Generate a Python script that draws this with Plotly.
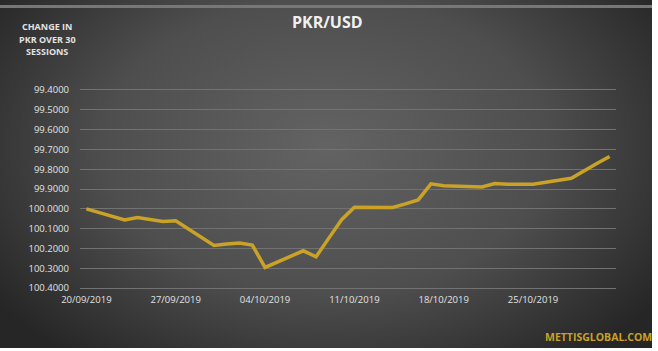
import base64
import plotly.graph_objects as go

dates = ['2019-09-20', '2019-09-23', '2019-09-24', '2019-09-25', '2019-09-26', '2019-09-27',
         '2019-09-30', '2019-10-01', '2019-10-02', '2019-10-03', '2019-10-04',
         '2019-10-07', '2019-10-08', '2019-10-09', '2019-10-10', '2019-10-11',
         '2019-10-14', '2019-10-15', '2019-10-16', '2019-10-17', '2019-10-18',
         '2019-10-21', '2019-10-22', '2019-10-23', '2019-10-24', '2019-10-25',
         '2019-10-28', '2019-10-29', '2019-10-30', '2019-10-31']
rates = [100.000, 100.056, 100.044, 100.052, 100.064, 100.060,
         100.185, 100.178, 100.173, 100.183, 100.296,
         100.212, 100.242, 100.148, 100.055, 99.992,
         99.993, 99.975, 99.955, 99.874, 99.884,
         99.890, 99.872, 99.876, 99.876, 99.876,
         99.846, 99.807, 99.771, 99.736]
y_ticks = [99.4, 99.5, 99.6, 99.7, 99.8, 99.9, 100.0, 100.1, 100.2, 100.3, 100.4]
y_title_lines = ['CHANGE IN', 'PKR OVER 30', 'SESSIONS']

W, H = 658, 351
ML, MR, MT, MB = 80, 42, 87, 60
PW, PH = W - ML - MR, H - MT - MB
FW, FH = 652, 348

svg = f"""<svg xmlns='http://www.w3.org/2000/svg' width='{FW}' height='{FH}' viewBox='0 0 {FW} {FH}' preserveAspectRatio='none'>
<defs><radialGradient id='g' cx='50%' cy='42%' r='62%' gradientTransform='translate(0.5 0.42) scale(1 1.25) translate(-0.5 -0.42)'>
<stop offset='0' stop-color='#636363'/><stop offset='0.55' stop-color='#4e4e4e'/><stop offset='1' stop-color='#262626'/></radialGradient></defs>
<rect width='{FW}' height='{FH}' fill='url(#g)'/>
<rect x='0' y='5' width='{FW}' height='3' fill='#777777'/>
</svg>"""
src = "data:image/svg+xml;base64," + base64.b64encode(svg.encode()).decode()

fig = go.Figure()
fig.add_trace(go.Scatter(x=dates, y=rates, mode='lines',
                         line=dict(color='#C9A227', width=3.5), hoverinfo='x+y'))

fig.add_layout_image(dict(source=src, xref='paper', yref='paper',
                          x=-ML / PW, y=(PH + MT) / PH, sizex=FW / PW, sizey=FH / PH,
                          xanchor='left', yanchor='top', sizing='stretch', layer='below'))

font_family = 'Open Sans, DejaVu Sans, sans-serif'
fig.update_layout(
    width=W, height=H,
    margin=dict(l=ML, r=MR, t=MT, b=MB),
    paper_bgcolor='white', plot_bgcolor='rgba(0,0,0,0)',
    showlegend=False,
    font=dict(family=font_family, color='#e2e2e2', size=9),
    xaxis=dict(type='date', range=['2019-09-19 12:00', '2019-10-31 12:00'],
               tick0='2019-09-20', dtick=7 * 86400000, tickformat='%d/%m/%Y',
               showgrid=False, zeroline=False, showline=False, ticks='',
               ticklabelstandoff=1,
               tickfont=dict(size=9.5, color='#e2e2e2')),
    yaxis=dict(range=[100.415, 99.385], tickvals=y_ticks, tickformat='.4f',
               showgrid=True, gridcolor='#727272', gridwidth=1, zeroline=False,
               showline=False, ticks='', ticklabelstandoff=10,
               tickfont=dict(size=9.5, color='#e2e2e2')),
)

fig.add_annotation(text='<b>PKR/USD</b>', xref='paper', yref='paper',
                   x=(327.5 - ML) / PW, y=(PH + MT - 22) / PH, showarrow=False,
                   font=dict(size=16, color='#f0f0f0', family=font_family),
                   xanchor='center', yanchor='middle')
for i, line in enumerate(y_title_lines):
    fig.add_annotation(text=f'<b>{line}</b>', xref='paper', yref='paper',
                       x=(47 - ML) / PW, y=(PH + MT - (27 + 12.5 * i)) / PH, showarrow=False,
                       font=dict(size=9, color='#e2e2e2', family=font_family),
                       xanchor='center', yanchor='middle')
fig.add_annotation(text='<b>METTISGLOBAL.COM</b>', xref='paper', yref='paper',
                   x=(598 - ML) / PW, y=(PH + MT - 337) / PH, showarrow=False,
                   font=dict(size=10.5, color='#C9A227', family=font_family),
                   xanchor='center', yanchor='middle')

fig.write_html('out.html')
